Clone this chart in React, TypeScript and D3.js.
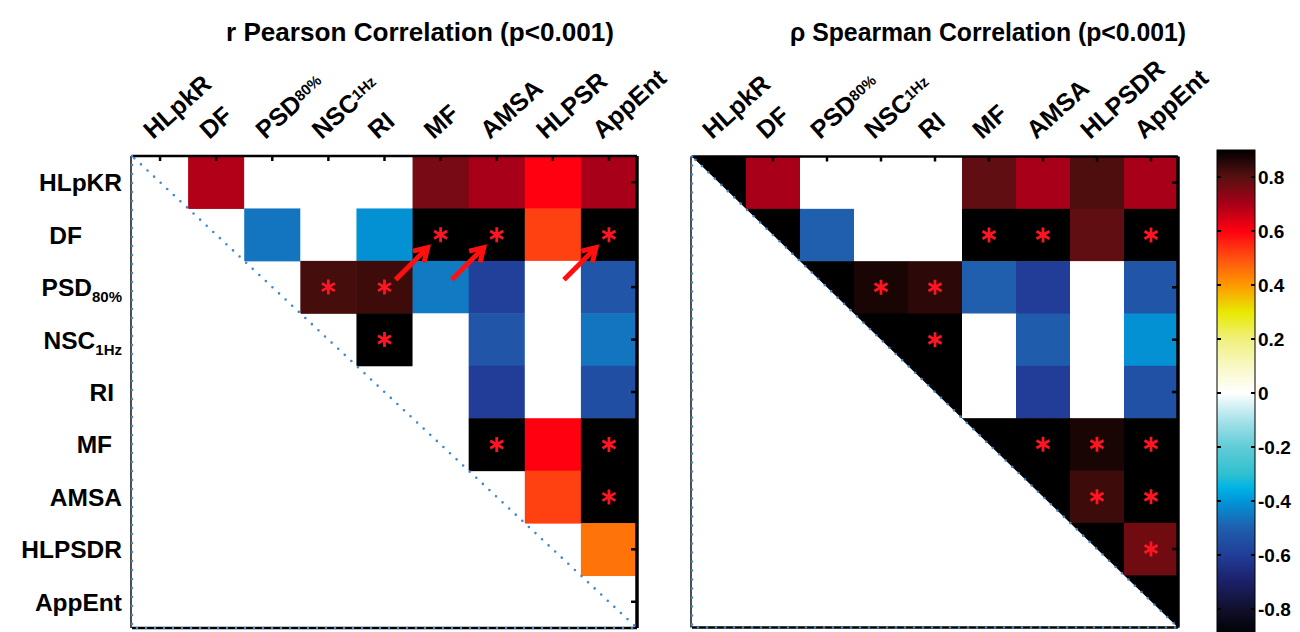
import React from 'react';
import * as d3 from 'd3';

// ---------------- DATA ----------------
const variables = ['HLpKR', 'DF', 'PSD80', 'NSC1Hz', 'RI', 'MF', 'AMSA', 'HLPSDR', 'AppEnt'];

// [main text, small text]
const rowLabels: [string, string][] = [
  ['HLpKR', ''], ['DF', ''], ['PSD', '80%'], ['NSC', '1Hz'], ['RI', ''],
  ['MF', ''], ['AMSA', ''], ['HLPSDR', ''], ['AppEnt', ''],
];
const pearsonColLabels: [string, string][] = [
  ['HLpkR', ''], ['DF', ''], ['PSD', '80%'], ['NSC', '1Hz'], ['RI', ''],
  ['MF', ''], ['AMSA', ''], ['HLPSR', ''], ['AppEnt', ''],
];
const spearmanColLabels: [string, string][] = [
  ['HLpkR', ''], ['DF', ''], ['PSD', '80%'], ['NSC', '1Hz'], ['RI', ''],
  ['MF', ''], ['AMSA', ''], ['HLPSDR', ''], ['AppEnt', ''],
];

const pearsonTitle = 'r Pearson Correlation (p<0.001)';
const spearmanTitle = 'ρ Spearman Correlation (p<0.001)';

// null = not shown (blank)
const pearson: (number | null)[][] = [
  [null, 0.69, 0, 0, 0, 0.76, 0.70, 0.60, 0.70],
  [null, null, -0.46, 0, -0.41, 0.90, 0.90, 0.52, 0.90],
  [null, null, null, 0.82, 0.83, -0.45, -0.59, 0, -0.53],
  [null, null, null, null, 0.90, 0, -0.53, 0, -0.46],
  [null, null, null, null, null, 0, -0.60, 0, -0.55],
  [null, null, null, null, null, null, 0.90, 0.60, 0.90],
  [null, null, null, null, null, null, null, 0.52, 0.90],
  [null, null, null, null, null, null, null, null, 0.45],
  [null, null, null, null, null, null, null, null, null],
];

const spearman: (number | null)[][] = [
  [1, 0.70, 0, 0, 0, 0.79, 0.70, 0.81, 0.70],
  [1, 1, -0.50, 0, 0, 0.90, 0.90, 0.79, 0.90],
  [1, 1, 1, 0.87, 0.85, -0.50, -0.60, 0, -0.53],
  [1, 1, 1, 1, 0.90, 0, -0.51, 0, -0.41],
  [1, 1, 1, 1, 1, 0, -0.60, 0, -0.54],
  [1, 1, 1, 1, 1, 1, 0.90, 0.87, 0.90],
  [1, 1, 1, 1, 1, 1, 1, 0.83, 0.90],
  [1, 1, 1, 1, 1, 1, 1, 1, 0.77],
  [1, 1, 1, 1, 1, 1, 1, 1, 1],
];

const pearsonSig: [number, number][] = [[1, 5], [1, 6], [1, 8], [2, 3], [2, 4], [3, 4], [5, 6], [5, 8], [6, 8]];
const spearmanSig: [number, number][] = [[1, 5], [1, 6], [1, 8], [2, 3], [2, 4], [3, 4], [5, 6], [5, 7], [5, 8], [6, 7], [6, 8], [7, 8]];
const pearsonArrows: [number, number][] = [[1, 5], [1, 6], [1, 8]];

// colormap stops
const cmapValues = [-0.9, -0.8, -0.7, -0.6, -0.5, -0.4, -0.35, -0.3, -0.2, -0.1, 0, 0.1, 0.2, 0.3, 0.35, 0.4, 0.5, 0.6, 0.7, 0.8, 0.9];
const cmapColors = ['#000000', '#10102c', '#1b2068', '#213d98', '#1f5fae', '#0096d8', '#00b4e4', '#30c0d0', '#60ccd6', '#a8e2ea', '#ffffff', '#f8f8c4', '#f0f07c', '#e8e800', '#f2c000', '#ff9800', '#ff5010', '#ff0010', '#a80018', '#581010', '#000000'];
const cbTicks = [0.8, 0.6, 0.4, 0.2, 0, -0.2, -0.4, -0.6, -0.8];

// ---------------- LAYOUT ----------------
const FONT = "'Liberation Sans', Arial, Helvetica, sans-serif";
const DOT_BLUE = '#3f88d2';
const STAR_RED = '#ff1422';
const rowLabelNudge: Record<string, number> = { DF: -40, RI: -8, MF: -10 };

const color = d3.scaleLinear<string>().domain(cmapValues).range(cmapColors)
  .interpolate(d3.interpolateRgb).clamp(true);

function Star({ cx, cy }: { cx: number; cy: number }) {
  const r = 7.5;
  const d = [90, 30, 150].map((a) => {
    const rad = (a * Math.PI) / 180;
    const dx = r * Math.cos(rad), dy = r * Math.sin(rad);
    return `M${cx - dx},${cy - dy}L${cx + dx},${cy + dy}`;
  }).join('');
  return <path d={d} stroke={STAR_RED} strokeWidth={2.8} strokeLinecap="butt" />;
}

function Arrow({ cx, cy }: { cx: number; cy: number }) {
  const tx = cx - 13, ty = cy + 13;
  const sx = cx - 45, sy = cy + 45;
  const ang = Math.atan2(ty - sy, tx - sx);
  const L = 15;
  const a1 = ang + Math.PI - 0.55, a2 = ang + Math.PI + 0.55;
  return (
    <g stroke="#ff1010" strokeWidth={5} fill="none" strokeLinecap="butt" strokeLinejoin="miter">
      <line x1={sx} y1={sy} x2={tx - 2 * Math.cos(ang)} y2={ty - 2 * Math.sin(ang)} />
      <polyline points={`${tx + L * Math.cos(a1)},${ty + L * Math.sin(a1)} ${tx},${ty} ${tx + L * Math.cos(a2)},${ty + L * Math.sin(a2)}`} />
    </g>
  );
}

type PanelProps = {
  x0: number; x1: number; y0: number; y1: number;
  values: (number | null)[][];
  sig: [number, number][];
  arrows: [number, number][];
  colLabels: [string, string][];
  showRowLabels: boolean;
  title: string; titleX: number; titleLen: number;
};

function Panel(p: PanelProps) {
  const x = d3.scaleBand<string>().domain(variables).range([p.x0, p.x1]);
  const y = d3.scaleBand<string>().domain(variables).range([p.y0, p.y1]);
  const bw = x.bandwidth(), bh = y.bandwidth();
  const cx = (j: number) => (x(variables[j]) as number) + bw / 2;
  const cy = (i: number) => (y(variables[i]) as number) + bh / 2;

  const cells: JSX.Element[] = [];
  p.values.forEach((row, i) => row.forEach((v, j) => {
    if (v === null) return;
    cells.push(
      <rect key={`c${i}-${j}`} x={x(variables[j])} y={y(variables[i])}
        width={bw + 0.5} height={bh + 0.5} fill={color(v)} />
    );
  }));

  const tri = `M${p.x0},${p.y0}L${p.x0},${p.y1}L${p.x1},${p.y1}Z`;

  return (
    <g>
      <text x={p.titleX} y={41} fontFamily={FONT} fontWeight="bold" fontSize={25}
        textLength={p.titleLen} lengthAdjust="spacingAndGlyphs" fill="#000">{p.title}</text>

      <rect x={p.x0} y={p.y0} width={p.x1 - p.x0} height={p.y1 - p.y0} fill="#fff" />
      {cells}
      <path d={tri} fill="#fff" />

      {p.sig.map(([i, j]) => <Star key={`s${i}-${j}`} cx={cx(j)} cy={cy(i)} />)}
      {p.arrows.map(([i, j]) => <Arrow key={`a${i}-${j}`} cx={cx(j)} cy={cy(i)} />)}

      {/* frame */}
      <line x1={p.x0} y1={p.y0} x2={p.x1} y2={p.y0} stroke="#000" strokeWidth={2.5} />
      <line x1={p.x1} y1={p.y0} x2={p.x1} y2={p.y1} stroke="#000" strokeWidth={3.5} />
      <line x1={p.x0} y1={p.y1} x2={p.x1} y2={p.y1} stroke="#000" strokeWidth={2.5} />
      <line x1={p.x0 - 1} y1={p.y0} x2={p.x0 - 1} y2={p.y1} stroke="#000" strokeWidth={1.4} />
      <path d={tri} fill="none" stroke={DOT_BLUE} strokeWidth={2.6} strokeDasharray="0 9" strokeLinecap="round" />

      {/* ticks */}
      {variables.map((v, j) => (
        <line key={`tt${j}`} x1={cx(j)} x2={cx(j)} y1={p.y0} y2={p.y0 + 5} stroke="#000" strokeWidth={2.5} />
      ))}
      {variables.map((v, i) => (
        <line key={`rt${i}`} x1={p.x1 - 6} x2={p.x1} y1={cy(i)} y2={cy(i)} stroke="#000" strokeWidth={2.5} />
      ))}

      {/* column labels */}
      {p.colLabels.map(([main, small], j) => (
        <text key={`cl${j}`} transform={`translate(${cx(j) - 7},${140}) rotate(-42)`}
          fontFamily={FONT} fontWeight="bold" fontSize={25} fill="#000">
          {main}
          {small && <tspan fontSize={15} dy={-5}>{small}</tspan>}
        </text>
      ))}

      {/* row labels */}
      {p.showRowLabels && rowLabels.map(([main, small], i) => (
        <text key={`rl${i}`} x={122 + (rowLabelNudge[main] || 0)} y={cy(i) + 9}
          textAnchor="end" fontFamily={FONT} fontWeight="bold" fontSize={24.5} fill="#000">
          {main}
          {small && <tspan fontSize={15} dy={6}>{small}</tspan>}
        </text>
      ))}
    </g>
  );
}

function Colorbar() {
  const cx0 = 1217, cx1 = 1255;
  const yScale = d3.scaleLinear().domain([0.9, -0.9]).range([150, 636]);
  const stops = cmapValues.map((v, k) => ({ off: (0.9 - v) / 1.8, c: cmapColors[k] }))
    .sort((a, b) => a.off - b.off);
  return (
    <g>
      <defs>
        <linearGradient id="cbgrad" x1="0" y1="0" x2="0" y2="1">
          {stops.map((s, k) => (
            <stop key={k} offset={s.off} stopColor={s.c} />
          ))}
        </linearGradient>
      </defs>
      <rect x={cx0} y={yScale(0.9)} width={cx1 - cx0} height={yScale(-0.9) - yScale(0.9)}
        fill="url(#cbgrad)" stroke="#000" strokeWidth={1} />
      {cbTicks.map((t) => (
        <g key={t}>
          <line x1={cx0} x2={cx0 + 4} y1={yScale(t)} y2={yScale(t)} stroke="#000" strokeWidth={2} />
          <line x1={cx1 - 4} x2={cx1} y1={yScale(t)} y2={yScale(t)} stroke="#000" strokeWidth={2} />
          <text x={1258} y={yScale(t)} dominantBaseline="central" fontFamily={FONT}
            fontWeight="bold" fontSize={19} fill="#000">{String(t)}</text>
        </g>
      ))}
    </g>
  );
}

export default function App() {
  return (
    <svg width={1300} height={632} style={{ position: 'absolute', left: 0, top: 0, background: '#fff' }}>
      <rect width={1300} height={632} fill="#fff" />
      <Panel x0={132} x1={637} y0={156} y1={628} values={pearson} sig={pearsonSig}
        arrows={pearsonArrows} colLabels={pearsonColLabels} showRowLabels={true}
        title={pearsonTitle} titleX={226} titleLen={388} />
      <Panel x0={692} x1={1178} y0={156.5} y1={627.5} values={spearman} sig={spearmanSig}
        arrows={[]} colLabels={spearmanColLabels} showRowLabels={false}
        title={spearmanTitle} titleX={790} titleLen={396} />
      <Colorbar />
    </svg>
  );
}
